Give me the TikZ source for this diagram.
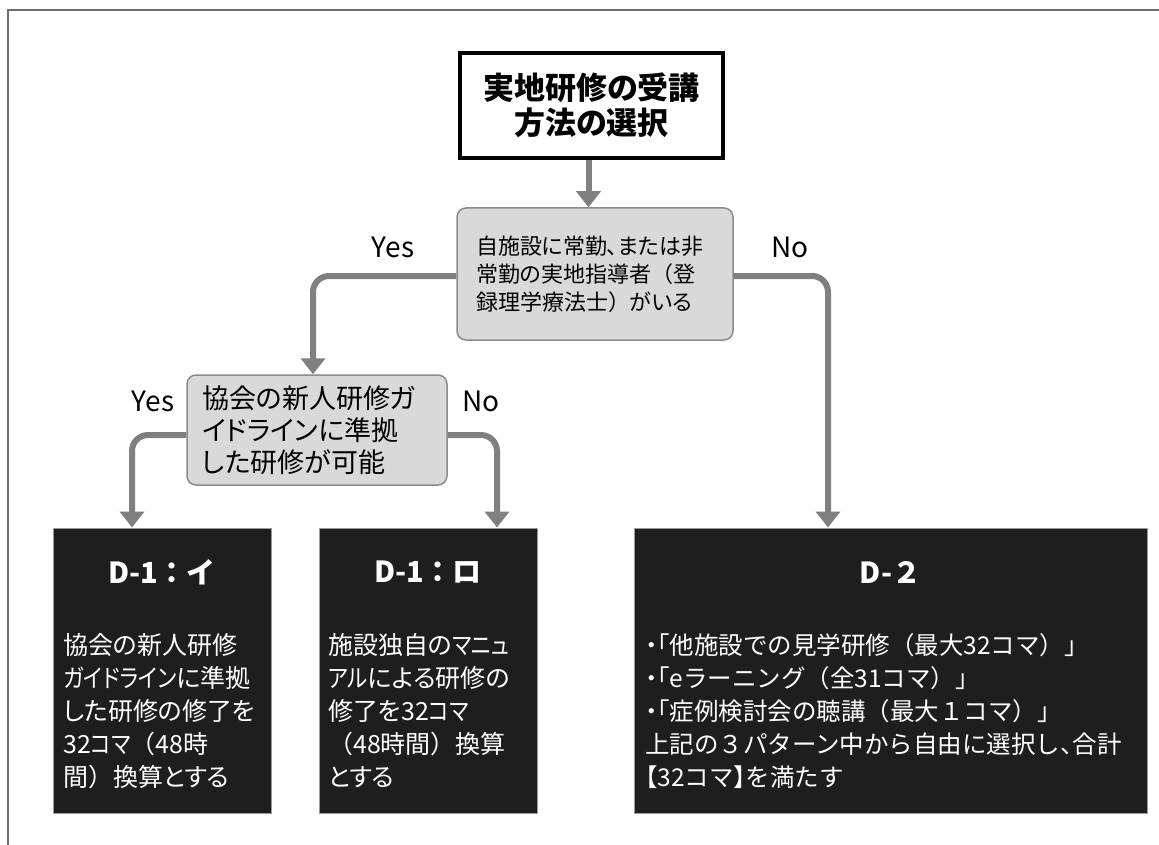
\documentclass[tikz,border=0pt]{standalone}
\usepackage{fontspec}
\setmainfont{Noto Sans CJK JP}[RawFeature=+palt]
\newfontfamily\jpn{Noto Sans CJK JP}
\newfontfamily\kana{Noto Sans CJK JP}[RawFeature=+palt, FakeStretch=0.86]
\newcommand{\fw}[1]{{\jpn#1}}
\newcommand{\pt}[1]{{\rmfamily#1}}
\newcommand{\nk}[1]{{\kana#1}}
\usetikzlibrary{arrows.meta}
\definecolor{framegray}{HTML}{6E6E6E}
\definecolor{arrowgray}{HTML}{808080}
\definecolor{qfill}{HTML}{D9D9D9}
\definecolor{qdraw}{HTML}{8C8C8C}
\definecolor{dfill}{HTML}{1E1E1E}
\definecolor{ddraw}{HTML}{9A9A9A}
\tikzset{
  titlebox/.style={draw=black, line width=4pt, fill=white, minimum width=263pt, minimum height=105pt,
    align=center, inner sep=0pt, font=\fontsize{31}{35}\selectfont\bfseries},
  qbox/.style={draw=qdraw, fill=qfill, line width=1.5pt, rounded corners=9pt, align=left, inner sep=0pt},
  dbox/.style={draw=ddraw, fill=dfill, line width=1pt, inner sep=0pt},
  dtitle/.style={text=white, inner sep=0pt, font=\jpn\fontsize{29}{31}\selectfont\bfseries},
  dbody/.style={text=white, inner sep=0pt, align=left, anchor=west, font=\fontsize{25}{33}\selectfont},
  lbl/.style={inner sep=0pt, font=\fontsize{28}{30}\selectfont},
  conn/.style={draw=arrowgray, line width=6pt, rounded corners=16pt, -{Triangle[width=24pt,length=16pt]}},
}
\begin{document}
\begin{tikzpicture}[x=1pt, y=-1pt]
\useasboundingbox (0,0) rectangle (1159,845);
% frame (only top and left edges visible)
\draw[framegray, line width=2.5pt] (8,845) -- (8,10) -- (1159,10);

% title
\node[titlebox] (t) at (591.5,105.5) {実地研修の受講\\方法の選択};

% decision 1
\node[qbox, minimum width=276pt, minimum height=132pt, text width=238pt,
      font=\fontsize{22}{28}\selectfont] (q1) at (595,274)
  {自施設に常勤、または非\\常勤の実地指導者\fw{（}登\\録理学療法士\fw{）}がいる};

% decision 2
\node[qbox, minimum width=260pt, minimum height=110pt, text width=230pt,
      font=\fontsize{27}{32}\selectfont] (q2) at (317,430)
  {協会の新人研修ガ\\イドラインに準拠\\した研修が可能};

% result boxes
\node[dbox, minimum width=218pt, minimum height=285pt] (d1i) at (162,670.5) {};
\node[dbox, minimum width=218pt, minimum height=285pt] (d1r) at (428,670.5) {};
\node[dbox, minimum width=513pt, minimum height=285pt] (d2) at (890.5,670.5) {};

\node[dtitle] (d1it) at (162,572) {D-1：イ};
\node[dtitle] (d1rt) at (428,572) {D-1：ロ};
\node[dtitle] (d2t) at (890.5,572) {D-２};

\node[dbody] (d1ib) at (63,711)
  {協会の新人研修\\\nk{ガイドライン}に準拠\\した研修の修了を\\32\nk{コマ}\fw{（}48時\\間\fw{）}換算とする};
\node[dbody] (d1rb) at (328,711)
  {施設独自の\nk{マニュ}\\\nk{アル}による研修の\\修了を32\nk{コマ}\\\fw{（}48時間\fw{）}換算\\とする};
\node[dbody, font=\jpn\fontsize{24.5}{33}\selectfont] (d2b) at (645,711)
  {\pt{・「}他施設での見学研修（最大32コマ）」\\\pt{・「}eラーニング（全31コマ）」\\\pt{・「}症例検討会の聴講（最大１コマ）」\\上記の３パターン中から自由に選択し\pt{、}合計\\\pt{【}32コマ\pt{】}を満たす};

% labels
\node[lbl] (yes1) at (393,247) {Yes};
\node[lbl] (no1) at (790,247) {No};
\node[lbl] (yes2) at (153,401) {Yes};
\node[lbl] (no2) at (481,401) {No};

% connectors
\draw[conn] ([xshift=-3pt]t.south) -- ([xshift=-3pt]t.south |- q1.north);
\draw[conn] ([yshift=-2pt]q1.west) -| ([xshift=-4pt]q2.north);
\draw[conn] ([yshift=-2pt]q1.east) -| ([xshift=-62.5pt]d2.north);
\draw[conn] ([yshift=-5pt]q2.west) -| ([xshift=-30pt]d1i.north);
\draw[conn] ([yshift=-5pt]q2.east) -| ([xshift=69pt]d1r.north);
\end{tikzpicture}
\end{document}
